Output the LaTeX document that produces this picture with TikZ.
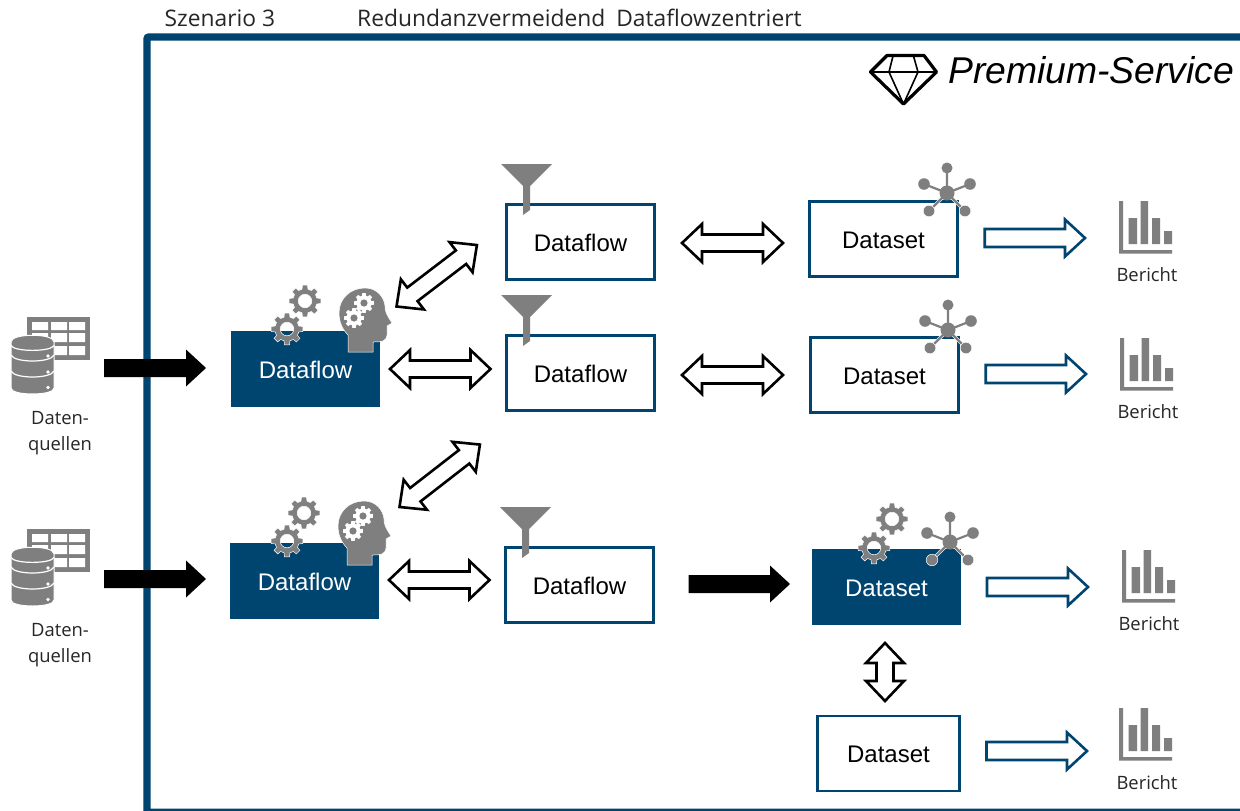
\documentclass[tikz,border=0pt]{standalone}
\usepackage{fontspec}
\setmainfont{Liberation Sans}
\newfontfamily\uifont{Open Sans}
\usetikzlibrary{calc}
\definecolor{navy}{HTML}{004470}
\definecolor{ico}{HTML}{7F7F7F}
\newcommand\aimmeasure[2]{\path let \p1=#1,\p2=#2 in \pgfextra{\pgfmathsetmacro\arlen{veclen(\x2-\x1,\y2-\y1)}\pgfmathsetmacro\arang{atan2(\y2-\y1,\x2-\x1)}\global\let\Arlen\arlen\global\let\Arang\arang};}
\newcommand\singlearrow[3]{\aimmeasure{#2}{#3}\begin{scope}[shift={#2},rotate=\Arang]
\path[#1] (0,9) -- ({\Arlen-20},9) -- ({\Arlen-20},18.5) -- ({\Arlen},0) -- ({\Arlen-20},-18.5) -- ({\Arlen-20},-9) -- (0,-9) -- cycle;
\end{scope}}
\newcommand\doublearrow[3]{\aimmeasure{#2}{#3}\begin{scope}[shift={#2},rotate=\Arang]
\path[#1] (0,0) -- (20,19) -- (20,8.5) -- ({\Arlen-20},8.5) -- ({\Arlen-20},19) -- ({\Arlen},0) -- ({\Arlen-20},-19) -- ({\Arlen-20},-8.5) -- (20,-8.5) -- (20,-19) -- cycle;
\end{scope}}
\tikzset{
  x=1pt,y=-1pt,
  lightbox/.style={draw=navy,line width=2.7pt,fill=white,minimum width=148.5pt,minimum height=75pt,inner sep=0pt,outer sep=0pt,text height=18.5pt,text depth=0pt,font=\fontsize{24}{24}\selectfont},
  darkbox/.style={fill=navy,text=white,minimum width=149pt,minimum height=76pt,inner sep=0pt,outer sep=0pt,text height=18.5pt,text depth=0pt,font=\fontsize{24}{24}\selectfont},
  uilabel/.style={font=\uifont\fontsize{18.4}{18.4}\selectfont,text=black!85,inner sep=0pt,outer sep=0pt,anchor=base},
  titlelabel/.style={font=\uifont\fontsize{22.8}{22.8}\selectfont,text=black!85,inner sep=0pt,anchor=base west},
  solidblock/.style={fill=black},
  hollowblock/.style={draw=black,fill=white,line width=2.6pt,miter limit=10},
  blueblock/.style={draw=navy,fill=white,line width=2.6pt,miter limit=10},
  gearicon/.pic={
    \path[fill=ico,draw=white,line width=.5pt,even odd rule] (-9:16)
      \foreach \a in {0,45,...,315} { -- (\a-9:16) -- (\a+9:16) -- (\a+14:12.2) -- (\a+31:12.2) } -- cycle
      (0,0) circle (6.8);
  },
  smallgear/.pic={
    \path[fill=white] (-12:10)
      \foreach \a in {0,45,...,315} { -- (\a-10:10) -- (\a+10:10) -- (\a+14:7.6) -- (\a+31:7.6) } -- cycle;
    \fill[ico] (0,0) circle (3.6);
  },
  headicon/.pic={
    \path[fill=ico,draw=white,line width=.5pt] (9,47) .. controls (3,41) and (0,33) .. (0,25)
      .. controls (0,10) and (12,0) .. (26,0) .. controls (38,0) and (45,9) .. (46,18)
      .. controls (46,23) and (47,26) .. (53,35) -- (48,38) -- (48,47)
      .. controls (47,54) and (42,54) .. (34,54) -- (34,64) -- (9,64) -- cycle;
    \pic at (25,15) {smallgear};
    \pic at (15,30) {smallgear};
  },
  hubicon/.pic={
    \draw[white,line width=3.5pt] (0,0) -- (-18,18) (0,0) -- (18,18);
    \draw[ico,line width=2.2pt] (0,0) -- (-18,18) (0,0) -- (18,18) (0,0) -- (0,-25) (0,0) -- (-23,-9) (0,0) -- (23,-9);
    \fill[ico] (0,0) circle (7.5) (0,-25) circle (5.5) (-23,-9) circle (5.8) (23,-9) circle (5.8);
    \path[fill=ico,draw=white,line width=.5pt] (-18,18) circle (5.8) (18,18) circle (5.8);
  },
  funnelicon/.pic={
    \path[fill=ico] (0,0) -- (51,0) -- (29,22) -- (29,46) -- (22,51) -- (22,22) -- cycle;
  },
  charticon/.pic={
    \fill[ico] (0,0) -- (4,0) -- (4,49) -- (53,49) -- (53,52.5) -- (0,52.5) -- cycle;
    \fill[ico] (9.7,17) rectangle (18,43) (21.7,0) rectangle (29,43) (33,17) rectangle (41,43) (45,30) rectangle (53,43);
  },
  dbicon/.pic={
    \fill[ico] (27,317) rectangle (90,360);
    \fill[white] (32,322) rectangle (48,330) (51,322) rectangle (67,330) (69,322) rectangle (85,330)
      (32,333) rectangle (48,342) (51,333) rectangle (67,342) (69,333) rectangle (85,342)
      (32,346) rectangle (48,355) (51,346) rectangle (67,355) (69,346) rectangle (85,355);
    \path[fill=ico,draw=white,line width=1pt] (11,342) .. controls (11,333) and (54,333) .. (54,342)
      -- (54,388) .. controls (54,396) and (11,396) .. (11,388) -- cycle;
    \draw[white,line width=1.2pt] (11,345.5) .. controls (14,352) and (51,352) .. (54,345.5)
      (11,355) .. controls (14,363) and (51,363) .. (54,355)
      (11,371) .. controls (14,379) and (51,379) .. (54,371);
    \fill[white] (48,356) circle (1.8) (48,372) circle (1.8) (48,387.5) circle (1.8);
  }
}
\begin{document}
\begin{tikzpicture}
\useasboundingbox (0,0) rectangle (1240,811);
\fill[white] (0,0) rectangle (1240,811);
\draw[navy,line width=7.4pt,rounded corners=2pt] (147,37) rectangle (1262,812.4);

\node[titlelabel] (sz) at (164.5,26) {Szenario 3};
\node[titlelabel] (tt) at (357,26) {Redundanzvermeidend\hspace{5pt} Dataflowzentriert};

% diamond
\draw[black,line width=3.2pt,line join=round] (887,55.5) -- (924,55.5) -- (936.5,72) -- (903.5,104) -- (870.5,72) -- cycle;
\draw[black,line width=1.6pt,line join=round] (870.5,72) -- (936.5,72)
  (893,56) -- (889,72) -- (903.5,104) -- (918,72) -- (913.5,56);
\node[anchor=base west,inner sep=0pt,font=\itshape\fontsize{37.3}{37.3}\selectfont] (ps) at (948,83) {Premium-Service};

% boxes
\node[lightbox] (lf1) at (580.5,242) {Dataflow};
\node[lightbox] (ls1) at (883.5,239) {Dataset};
\node[lightbox] (lf2) at (580.5,373) {Dataflow};
\node[lightbox] (ls2) at (884.5,375) {Dataset};
\node[lightbox] (lf3) at (579.5,585) {Dataflow};
\node[lightbox,minimum width=142.5pt] (ls4) at (888.5,753.5) {Dataset};
\node[darkbox] (df1) at (305.5,369) {Dataflow};
\node[darkbox] (df2) at (304.5,581) {Dataflow};
\node[darkbox] (ds3) at (886.5,587) {Dataset};

% free ends
\coordinate (src1) at (104,368);
\coordinate (src2) at (104,579);
\coordinate (rep1) at (1085,238);
\coordinate (rep2) at (1086,374);
\coordinate (rep3) at (1088,587);
\coordinate (rep4) at (1087,751);

% connectors
\singlearrow{solidblock}{(src1)}{($(df1.west)+(-25,-1)$)}
\singlearrow{solidblock}{(src2)}{($(df2.west)+(-24,-2)$)}
\singlearrow{solidblock}{($(lf3.east)+(34.75,-1)$)}{($(ds3.west)+(-22,-3)$)}
\doublearrow{hollowblock}{($(df1.east)+(10,0)$)}{($(lf2.west)+(-15.75,-4)$)}
\doublearrow{hollowblock}{($(df2.east)+(10,-1)$)}{($(lf3.west)+(-15.75,-5)$)}
\doublearrow{hollowblock}{($(df1.north east)+(16.5,-24.5)$)}{($(lf1.west)+(-29.25,3)$)}
\doublearrow{hollowblock}{($(df2.north east)+(20.5,-36)$)}{($(lf2.south west)+(-26.25,34)$)}
\doublearrow{hollowblock}{($(lf1.east)+(27.25,1)$)}{($(ls1.west)+(-26.25,4)$)}
\doublearrow{hollowblock}{($(lf2.east)+(27.25,2)$)}{($(ls2.west)+(-27.25,0)$)}
\doublearrow{hollowblock}{($(ds3.south)+(-1.5,18)$)}{($(ls4.north)+(-3.5,-15)$)}
\singlearrow{blueblock}{($(ls1.east)+(27,-1)$)}{(rep1)}
\singlearrow{blueblock}{($(ls2.east)+(27,-1)$)}{(rep2)}
\singlearrow{blueblock}{($(ds3.east)+(26,0)$)}{(rep3)}
\singlearrow{blueblock}{($(ls4.east)+(26.75,-2.5)$)}{(rep4)}

% icons
\pic at (0,0) {dbicon};
\pic at (0,212) {dbicon};
\node[uilabel] (dq1a) at (60,424.5) {Daten-};
\node[uilabel] (dq1b) at (60,450) {quellen};
\node[uilabel] (dq2a) at (60,636.5) {Daten-};
\node[uilabel] (dq2b) at (60,662) {quellen};

\pic at (305,301) {gearicon};
\pic at (287,329) {gearicon};
\pic at (339,288) {headicon};
\pic at (304,513) {gearicon};
\pic at (287,541) {gearicon};
\pic at (338,501) {headicon};
\pic at (892,519) {gearicon};
\pic at (874,548) {gearicon};

\pic at (501,164) {funnelicon};
\pic at (501,295) {funnelicon};
\pic at (500,507) {funnelicon};

\pic at (947,193) {hubicon};
\pic at (948,330) {hubicon};
\pic at (950,542) {hubicon};

\pic at (1119,201) {charticon};
\pic at (1120,338) {charticon};
\pic at (1122,550) {charticon};
\pic at (1119,708) {charticon};

\node[uilabel] (b1) at (1147,281) {Bericht};
\node[uilabel] (b2) at (1148,418) {Bericht};
\node[uilabel] (b3) at (1149,630) {Bericht};
\node[uilabel] (b4) at (1147,789) {Bericht};
\end{tikzpicture}
\end{document}
